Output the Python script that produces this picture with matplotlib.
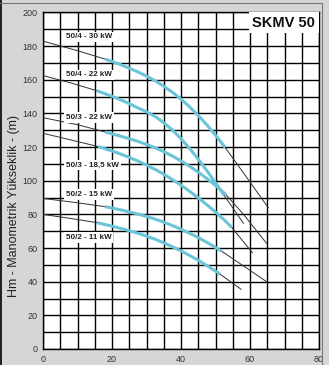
import numpy as np
import matplotlib.pyplot as plt
from matplotlib.lines import Line2D

# pump curves: flow (x), head Hm (y); cyan part = operating range
names = ['50/4 - 30 kW', '50/4 - 22 kW', '50/3 - 22 kW',
         '50/3 - 18,5 kW', '50/2 - 15 kW', '50/2 - 11 kW']

q_30_4 = [0, 10, 18, 20, 22.5, 25, 27.5, 30, 32.5, 35, 37.5, 40, 42.5, 45, 47.5, 50, 52.8, 59, 65.3]
h_30_4 = [183, 177.3, 172.3, 170.9, 169.0, 166.9, 164.7, 162.2, 159.4, 156.2, 152.6, 148.5,
          143.9, 138.8, 133.2, 127.1, 119.8, 102.1, 84]

q_22_4 = [0, 8, 15.6, 20, 22.5, 25, 27.5, 30, 32.5, 35, 37.5, 40, 42.5, 45, 47.5, 50, 52.5, 58.1]
h_22_4 = [162.5, 158.2, 153.5, 150.2, 148.1, 145.8, 143.3, 141.0, 138.2, 134.5, 130.2, 125.0,
          119.2, 112.8, 106.0, 98.8, 91.3, 74.7]

q_22_3 = [0, 10, 18, 22.5, 25, 27.5, 30, 32.5, 35, 37.5, 40, 42.5, 45, 47.5, 50, 53, 58, 64.8]
h_22_3 = [137.5, 133.3, 129, 126.5, 125, 123.4, 121.6, 119.6, 117.3, 114.7, 111.8, 108.6,
          105.1, 101.3, 97.2, 91.8, 80.3, 62.8]

q_185_3 = [0, 8, 16, 20, 22.5, 25, 27.5, 30, 32.5, 35, 37.5, 40, 42.5, 45, 47.5, 50, 52.5, 54.7, 60.7]
h_185_3 = [128.2, 124.3, 120.3, 117.7, 115.9, 113.9, 111.7, 109.4, 106.7, 103.9, 100.7, 97.4,
           93.7, 89.9, 85.7, 81.4, 76.8, 72.3, 57.2]

q_15_2 = [0, 10, 18, 20, 22.5, 25, 27.5, 30, 32.5, 35, 37.5, 40, 42.5, 45, 47.5, 50, 51.8, 58, 64.8]
h_15_2 = [89.5, 86.9, 84.6, 83.8, 82.7, 81.5, 80.2, 78.8, 77.2, 75.4, 73.4, 71.2, 68.8,
          66.2, 63.4, 60.4, 58.1, 49.5, 40]

q_11_2 = [0, 8, 15.6, 20, 22.5, 25, 27.5, 30, 32.5, 35, 37.5, 40, 42.5, 45, 47.5, 50, 51.3, 57.4]
h_11_2 = [80, 77.6, 75.1, 73.0, 71.7, 70.3, 68.8, 67.1, 65.2, 63.1, 60.8, 58.3, 55.6,
          52.7, 49.6, 46.3, 44.5, 35.5]

cyan_from = [18, 15.6, 18, 16, 18, 15.6]
cyan_to = [52.8, 52.5, 53, 54.7, 51.8, 51.3]

label_q = [6.7, 6.7, 6.7, 6.7, 6.7, 6.7]
label_h = [185.6, 162.9, 137.7, 109.3, 91.9, 66.2]

curves = [(q_30_4, h_30_4), (q_22_4, h_22_4), (q_22_3, h_22_3),
          (q_185_3, h_185_3), (q_15_2, h_15_2), (q_11_2, h_11_2)]

x_ticks = [0, 20, 40, 60, 80]
y_ticks = [0, 20, 40, 60, 80, 100, 120, 140, 160, 180, 200]

CYAN = '#6cc4d8'
BG = '#d6d6d6'

fig = plt.figure(figsize=(3.29, 3.65), dpi=100, facecolor=BG)
ax = fig.add_axes([43 / 329, 1 - 349 / 365, 276 / 329, 336.5 / 365])
ax.set_facecolor('white')

ax.set_xlim(0, 80)
ax.set_ylim(0, 200)
ax.set_xticks(x_ticks)
ax.set_yticks(y_ticks)
ax.set_xticks(np.arange(0, 81, 5), minor=True)
ax.set_yticks(np.arange(0, 201, 10), minor=True)
ax.grid(which='both', color='black', lw=1.0, zorder=1)
ax.tick_params(which='both', length=0)
ax.tick_params(axis='x', pad=4, labelsize=6.5, labelcolor='#333333')
ax.tick_params(axis='y', pad=4, labelsize=6.5, labelcolor='#333333')
for lab in ax.get_xticklabels() + ax.get_yticklabels():
    lab.set_family('Liberation Sans')
for s in ax.spines.values():
    s.set_color('black')
    s.set_linewidth(1.0)
ax.set_axisbelow(True)

for (q, h), a, b in zip(curves, cyan_from, cyan_to):
    q = np.array(q)
    h = np.array(h)
    ax.plot(q, h, color='#333333', lw=0.7, zorder=3)
    m = (q >= a - 1e-9) & (q <= b + 1e-9)
    ax.plot(q[m], h[m], color=CYAN, lw=2.2, solid_capstyle='butt',
            solid_joinstyle='round', zorder=4)

for name, lq, lh in zip(names, label_q, label_h):
    ax.text(lq, lh, name, ha='left', va='center', fontsize=5.8, fontweight='bold',
            family='Liberation Sans', color='#222222', zorder=5,
            bbox=dict(fc='white', ec='none', pad=1.2))

ax.text(69.8, 193.8, 'SKMV 50', ha='center', va='center', fontsize=10.5,
        fontweight='bold', family='Liberation Sans', color='#111111', zorder=6,
        bbox=dict(fc='white', ec='none', pad=2.5))

fig.text(14 / 329, 1 - 206 / 365, 'Hm - Manometrik Yükseklik - (m)', rotation=90,
         ha='center', va='center', fontsize=9, family='Liberation Sans', color='#222222')

# frame lines around the chart
fig.add_artist(Line2D([0.5 / 329, 0.5 / 329], [0, 1], color='black', lw=1.2))
fig.add_artist(Line2D([0, 322 / 329], [1 - 3 / 365, 1 - 3 / 365], color='#777777', lw=0.8))
fig.add_artist(Line2D([322 / 329, 322 / 329], [0, 1 - 3 / 365], color='#777777', lw=0.8))

fig.savefig('out.png', dpi=100, facecolor=BG)
